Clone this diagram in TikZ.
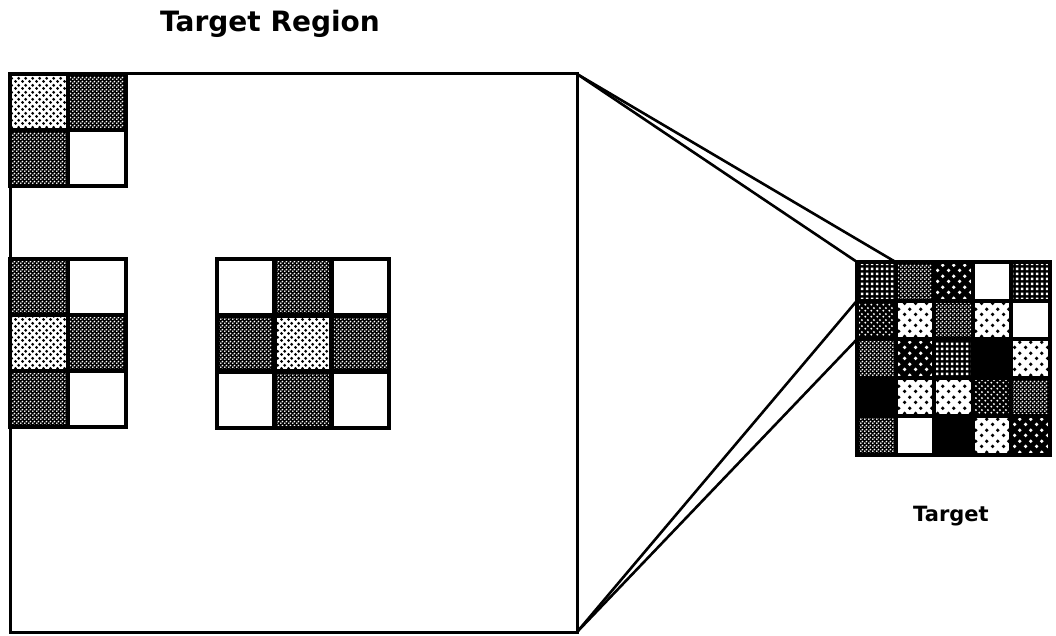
\documentclass[tikz,border=0pt]{standalone}
\usepackage{fontspec}
\setmainfont{DejaVu Sans}
\usetikzlibrary{patterns.meta}

\tikzdeclarepattern{
  name=ditherpat, type=uncolored,
  bounding box={(0pt,0pt) and (4pt,4pt)},
  tile size={(4pt,4pt)},
  code={\fill (1pt,1pt) circle (1.15pt); \fill (3pt,3pt) circle (1.15pt);}
}
\tikzdeclarepattern{
  name=lightdotpat, type=uncolored,
  bounding box={(0pt,0pt) and (7pt,7pt)},
  tile size={(7pt,7pt)},
  code={\fill (1.75pt,1.75pt) circle (1.75pt); \fill (5.25pt,5.25pt) circle (1.75pt);}
}
\tikzdeclarepattern{
  name=gridpat, type=uncolored,
  bounding box={(0pt,0pt) and (5pt,5pt)},
  tile size={(5pt,5pt)},
  code={\fill (1.1pt,1.1pt) rectangle (3.9pt,3.9pt);}
}
\tikzdeclarepattern{
  name=sparsepat, type=uncolored,
  bounding box={(0pt,0pt) and (11pt,11pt)},
  tile size={(11pt,11pt)},
  code={\fill (2.75pt,2.75pt) circle (2pt); \fill (8.25pt,8.25pt) circle (2pt);}
}
\tikzdeclarepattern{
  name=densepat, type=uncolored,
  bounding box={(0pt,0pt) and (6pt,6pt)},
  tile size={(6pt,6pt)},
  code={\fill (1.5pt,1.5pt) circle (1.2pt); \fill (4.5pt,4.5pt) circle (1.2pt);}
}

\tikzset{
  cellbase/.style={draw=black, line width=4.5pt, outer sep=0pt, inner sep=0pt, rectangle},
  cellW/.style={cellbase, fill=white},
  cellB/.style={cellbase, preaction={fill=black}, pattern=ditherpat, pattern color=white},
  cellH/.style={cellbase, preaction={fill=white}, pattern=lightdotpat, pattern color=black},
  cellA/.style={cellbase, preaction={fill=black}, pattern=gridpat, pattern color=white},
  cellC/.style={cellbase, preaction={fill=black}, pattern=sparsepat, pattern color=white},
  cellE/.style={cellbase, preaction={fill=white}, pattern=sparsepat, pattern color=black},
  cellF/.style={cellbase, preaction={fill=black}, pattern=densepat, pattern color=white},
  cellG/.style={cellbase, fill=black},
  cellD/.style={cellW},
  bigbox/.style={draw=black, line width=3pt, outer sep=0pt, inner sep=0pt, rectangle, fill=white},
  conn/.style={draw=black, line width=2.6pt},
  title/.style={font=\fontsize{28}{32}\selectfont\bfseries, anchor=base west, inner sep=0pt},
  label/.style={font=\fontsize{21}{24}\selectfont\bfseries, anchor=base west, inner sep=0pt}
}

\begin{document}
\begin{tikzpicture}[x=1pt,y=-1pt]
\useasboundingbox (0,0) rectangle (1056,636);
\fill[white] (0,0) rectangle (1056,636);

% big region square
\node[bigbox, minimum width=567pt, minimum height=558pt] (big) at (293.5,353) {};

% top-left 2x2
\foreach \t [count=\i from 0] in {H,B,B,W} {
  \pgfmathtruncatemacro\r{floor(\i/2)}
  \pgfmathtruncatemacro\c{mod(\i,2)}
  \node[cell\t, minimum width=58pt, minimum height=56pt] (a\r\c) at ({10+29+58*\c},{74+28+56*\r}) {};
}
% middle-left 3x2
\foreach \t [count=\i from 0] in {B,W,H,B,B,W} {
  \pgfmathtruncatemacro\r{floor(\i/2)}
  \pgfmathtruncatemacro\c{mod(\i,2)}
  \node[cell\t, minimum width=58pt, minimum height=56pt] (b\r\c) at ({10+29+58*\c},{259+28+56*\r}) {};
}
% right 3x3
\foreach \t [count=\i from 0] in {W,B,W,B,H,B,W,B,W} {
  \pgfmathtruncatemacro\r{floor(\i/3)}
  \pgfmathtruncatemacro\c{mod(\i,3)}
  \node[cell\t, minimum width=57.3pt, minimum height=56.3pt] (c\r\c) at ({217+28.65+57.3*\c},{259+28.15+56.3*\r}) {};
}

% target 5x5
\foreach \t [count=\i from 0] in {A,B,C,D,A, F,E,B,E,D, B,C,A,G,E, G,E,E,F,B, B,D,G,E,C} {
  \pgfmathtruncatemacro\r{floor(\i/5)}
  \pgfmathtruncatemacro\c{mod(\i,5)}
  \node[cell\t, line width=4pt, minimum width=38.6pt, minimum height=38.6pt] (t\r\c) at ({857+19.3+38.6*\c},{262+19.3+38.6*\r}) {};
}

% connectors
\draw[conn] (big.north east) -- (t00.north west);
\draw[conn] (big.north east) -- (t00.north east);
\draw[conn] (big.south east) -- (t10.north west);
\draw[conn] (big.south east) -- (t10.south west);

% labels
\node[title] (ttl) at (160,31.7) {Target Region};
\node[label] (lbl) at (913,521.7) {Target};
\end{tikzpicture}
\end{document}
